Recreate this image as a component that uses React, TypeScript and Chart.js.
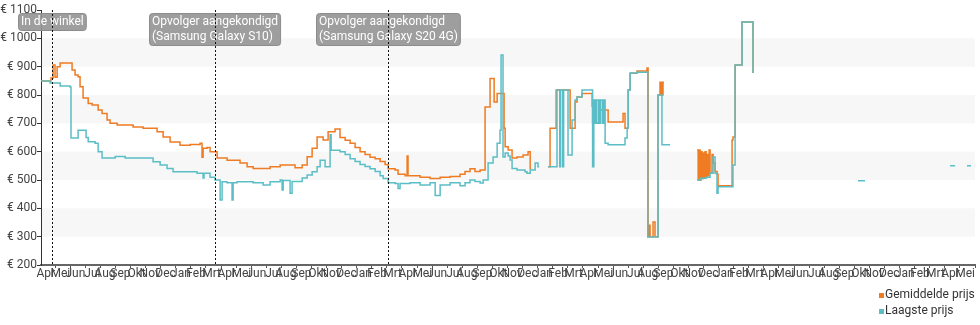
import React, { useEffect, useRef } from "react";
import { Chart, registerables } from "chart.js";

Chart.register(...registerables);

// x values are months counted from January 2018 (0 = Jan 2018, 12 = Jan 2019, ...)
const monthNames = ["Jan", "Feb", "Mrt", "Apr", "Mei", "Jun", "Jul", "Aug", "Sep", "Okt", "Nov", "Dec"];

const avgMonths = [
  2.07, 2.72, 2.86, 2.99, 3.13, 3.33, 4.12, 4.32, 4.52, 4.65, 4.85, 5.19, 5.45, 5.85, 6.11, 6.44, 6.64, 7.11, 8.17, 8.83,
  9.43, 9.76, 10.16, 10.62, 11.28, 11.95, 12.61, 12.74, 12.81, 13.07, 13.27, 13.74, 14.4, 15.26, 15.73, 16.13, 17.25, 17.92, 18.91, 19.38,
  19.71, 20.04, 20.37, 20.77, 21.1, 21.56, 21.89, 22.23, 22.56, 22.89, 23.22, 23.55, 23.88, 24.22, 24.55, 24.88, 25.08, 25.54, 25.74, 26.21,
  26.34, 26.4, 27.2, 27.86, 28.53, 29.19, 29.85, 30.18, 30.51, 30.84, 31.18, 31.51, 31.84, 32.11, 32.31, 32.77, 32.84, 33.04, 33.3, 33.63,
  34.03, 34.36, 34.5, 34.56, 35.3,
  35.69, 35.82, 36.22, 37.15, 37.48, 37.61, 37.94, 38.61, 38.64, 38.68, 38.72, 38.76, 38.8, 39.13, 39.67, 40.66, 40.79, 41.0, 41.13, 41.59,
  42.25, 42.32, 42.38, 42.45, 42.65, 42.78, 42.98, 43.11, 43.15, 43.19, 43.24, 43.31, 43.37, 44.0,
  45.57, 45.64, 45.7, 45.77, 45.84, 45.9, 45.97, 46.04, 46.1, 46.17, 46.24, 46.3, 46.37, 46.43, 46.56, 46.63, 46.76, 46.89, 46.96, 47.89,
  47.95, 48.09, 48.55, 49.28,
];
const avgPrices = [
  849, 860, 906, 863, 900, 913, 888, 871, 864, 829, 789, 770, 765, 747, 735, 712, 700, 694, 687, 683,
  683, 670, 652, 634, 623, 625, 630, 580, 612, 615, 600, 578, 570, 560, 547, 541, 547, 553, 543, 553,
  582, 612, 652, 641, 670, 680, 650, 640, 630, 615, 600, 590, 580, 575, 565, 555, 540, 535, 520, 515,
  585, 515, 510, 505, 510, 512, 520, 530, 540, 530, 535, 758, 858, 775, 805, 683, 617, 606, 578, 581,
  588, 600, 541, 541, null,
  547, 683, 818, 683, 775, 793, 805, 760, 700, 760, 700, 760, 700, 747, 705, 735, 683, 818, 877, 885,
  895, 300, 340, 300, 352, 300, 800, 845, 800, 845, 800, 845, 845, null,
  606, 500, 606, 500, 600, 505, 595, 510, 600, 510, 590, 515, 606, 524, 590, 560, 530, 520, 480, 641,
  652, 906, 1058, 878,
];

const lowMonths = [
  2.07, 2.66, 3.33, 3.99, 4.05, 4.52, 5.05, 5.19, 5.65, 5.85, 6.11, 6.98, 7.64, 9.1, 9.49, 9.96, 10.42, 10.82, 12.41, 12.81,
  12.87, 13.27, 13.6, 13.94, 14.07, 14.4, 14.73, 14.8, 15.06, 16.13, 16.79, 17.25, 17.92, 18.05, 18.12, 18.58, 18.71, 19.38, 19.71, 20.04,
  20.37, 20.57, 20.9, 21.23, 21.3, 21.89, 22.23, 22.56, 22.89, 23.22, 23.55, 23.88, 24.22, 24.55, 24.75, 25.08, 25.54, 25.74, 25.87, 26.54,
  27.2, 27.86, 28.2, 28.53, 29.19, 29.85, 30.18, 30.51, 30.84, 31.18, 31.38, 31.71, 32.04, 32.31, 32.5, 32.57, 32.7, 32.84, 33.04, 33.17,
  33.3, 33.63, 34.16, 34.29, 34.5, 34.83, 35.02, 35.1, 35.3,
  35.69, 36.28, 36.46, 36.52, 36.66, 36.72, 37.01, 37.28, 37.48, 37.61, 37.94, 38.64, 38.72, 38.82, 38.92, 39.05, 39.15, 39.28, 39.37, 39.47,
  39.67, 40.79, 40.93, 41.0, 41.13, 41.59, 42.25, 42.3, 42.98, 43.24, 43.78, 44.0,
  45.57, 45.77, 46.17, 46.43, 46.63, 46.76, 46.89, 46.96, 47.95, 48.09, 48.55, 49.28, 49.5,
  56.24, 56.71, 57.0, 62.35, 62.68, 63.0, 63.47, 63.74,
];
const lowPrices = [
  849, 842, 832, 828, 648, 676, 650, 635, 630, 600, 578, 583, 578, 578, 564, 553, 541, 529, 524, 507,
  524, 510, 500, 429, 494, 490, 429, 490, 494, 490, 482, 494, 500, 465, 498, 453, 495, 507, 518, 529,
  547, 570, 547, 660, 605, 600, 590, 575, 565, 555, 548, 540, 530, 515, 505, 490, 488, 470, 488, 490,
  482, 490, 445, 482, 490, 480, 490, 500, 495, 489, 500, 560, 581, 630, 676, 941, 581, 595, 585, 571,
  541, 535, 529, 524, 535, 560, 547, 547, null,
  547, 818, 547, 818, 547, 818, 588, 712, 782, 793, 818, 547, 782, 700, 782, 700, 782, 700, 782, 630,
  624, 648, 683, 818, 878, 880, 880, 299, 800, 624, 624, null,
  500, 506, 510, 524, 581, 524, 453, 476, 553, 906, 1058, 878, null,
  497, 497, null, 550, 550, null, 550, 550,
];

const eventMonths = [2.78, 13.6, 25.08];
const eventLabels = [
  ["In de winkel"],
  ["Opvolger aangekondigd", "(Samsung Galaxy S10)"],
  ["Opvolger aangekondigd", "(Samsung Galaxy S20 4G)"],
];

const shadedBands = [
  [300, 400],
  [500, 600],
  [700, 800],
  [900, 1000],
];

const ORANGE = "#ef7b22";
const TEAL = "#5bbec6";
const FONT = "Roboto, 'Noto Sans', sans-serif";

const bandsPlugin = {
  id: "bands",
  beforeDraw(chart: any) {
    const { ctx, chartArea, scales } = chart;
    const y = scales.y;
    ctx.save();
    ctx.fillStyle = "#f7f7f7";
    for (const [lo, hi] of shadedBands) {
      const y1 = y.getPixelForValue(hi);
      const y2 = y.getPixelForValue(lo);
      ctx.fillRect(chartArea.left, y1, chartArea.right - chartArea.left, y2 - y1);
    }
    ctx.restore();
  },
};

function roundRect(ctx: CanvasRenderingContext2D, x: number, y: number, w: number, h: number, r: number) {
  ctx.beginPath();
  ctx.moveTo(x + r, y);
  ctx.lineTo(x + w - r, y);
  ctx.quadraticCurveTo(x + w, y, x + w, y + r);
  ctx.lineTo(x + w, y + h - r);
  ctx.quadraticCurveTo(x + w, y + h, x + w - r, y + h);
  ctx.lineTo(x + r, y + h);
  ctx.quadraticCurveTo(x, y + h, x, y + h - r);
  ctx.lineTo(x, y + r);
  ctx.quadraticCurveTo(x, y, x + r, y);
  ctx.closePath();
}

const eventsPlugin = {
  id: "events",
  afterDraw(chart: any) {
    const { ctx, chartArea, scales } = chart;
    const xs = scales.x;
    ctx.save();
    ctx.font = `12px ${FONT}`;
    eventMonths.forEach((m, i) => {
      const x = xs.getPixelForValue(m);
      const lines = eventLabels[i];
      const w = Math.max(...lines.map((l) => ctx.measureText(l).width)) + 5;
      const h = lines.length * 15 + 2;
      const bx = Math.round(x - w / 2) + 0.5;
      const by = 13.5;
      roundRect(ctx, bx, by, w, h, 3);
      ctx.fillStyle = "rgba(150,150,150,0.92)";
      ctx.fill();
      ctx.strokeStyle = "#8c8c8c";
      ctx.lineWidth = 1;
      ctx.stroke();
      ctx.fillStyle = "#ffffff";
      ctx.textBaseline = "middle";
      ctx.textAlign = "left";
      lines.forEach((l, j) => ctx.fillText(l, bx + 2.5, by + 8 + j * 15));
      const lx = Math.round(x) + 0.5;
      ctx.beginPath();
      ctx.setLineDash([2, 2]);
      ctx.strokeStyle = "#111";
      ctx.moveTo(lx, chartArea.top);
      ctx.lineTo(lx, chartArea.bottom);
      ctx.stroke();
      ctx.setLineDash([]);
    });
    ctx.restore();
  },
};

function toPoints(xs: number[], ys: (number | null)[]) {
  return xs.map((x, i) => ({ x, y: ys[i] }));
}

export default function App() {
  const ref = useRef<HTMLCanvasElement | null>(null);

  useEffect(() => {
    if (!ref.current) return;
    const chart = new Chart(ref.current, {
      type: "line",
      data: {
        datasets: [
          {
            label: "Gemiddelde prijs",
            data: toPoints(avgMonths, avgPrices) as any,
            borderColor: ORANGE,
            backgroundColor: ORANGE,
            borderWidth: 1.5,
            pointRadius: 0,
            stepped: true,
            spanGaps: false,
            order: 1,
          },
          {
            label: "Laagste prijs",
            data: toPoints(lowMonths, lowPrices) as any,
            borderColor: TEAL,
            backgroundColor: TEAL,
            borderWidth: 1.5,
            pointRadius: 0,
            stepped: true,
            spanGaps: false,
            order: 0,
          },
        ],
      },
      options: {
        responsive: false,
        animation: false,
        events: [],
        layout: { padding: { top: 10, right: 5, left: 0, bottom: 0 } },
        plugins: { legend: { display: false }, tooltip: { enabled: false } },
        scales: {
          x: {
            type: "linear",
            min: 2.06,
            max: 64,
            afterBuildTicks: (s: any) => {
              const t = [];
              for (let k = Math.ceil(s.min); k <= Math.floor(s.max); k++) t.push({ value: k });
              s.ticks = t;
            },
            afterFit: (s: any) => {
              s.height = 60;
            },
            ticks: {
              autoSkip: false,
              maxRotation: 0,
              minRotation: 0,
              align: "end",
              padding: -1,
              color: "#444",
              font: { family: FONT, size: 12 },
              callback: (v: any) => monthNames[((Math.round(v) % 12) + 12) % 12],
            },
            grid: { drawOnChartArea: false, drawTicks: true, tickLength: 3, color: "#555" },
            border: { display: true, color: "#666", width: 2 },
          },
          y: {
            min: 200,
            max: 1100,
            afterFit: (s: any) => {
              s.width = 41;
            },
            ticks: {
              stepSize: 100,
              padding: 0,
              color: "#444",
              font: { family: FONT, size: 12 },
              callback: (v: any) => "€ " + v,
            },
            grid: { drawOnChartArea: false, drawTicks: true, tickLength: 4, color: "#333" },
            border: { display: true, color: "#333", width: 1 },
          },
        },
      },
      plugins: [bandsPlugin, eventsPlugin],
    });
    return () => chart.destroy();
  }, []);

  const legendItems = [
    { label: "Gemiddelde prijs", color: ORANGE },
    { label: "Laagste prijs", color: TEAL },
  ];

  return (
    <div style={{ position: "fixed", left: 0, top: 0, width: 980, height: 325, background: "#fff" }}>
      <canvas ref={ref} width={980} height={325} style={{ display: "block", width: 980, height: 325 }} />
      <div
        style={{
          position: "absolute",
          left: 879,
          top: 287,
          font: `12px ${FONT}`,
          color: "#333",
          lineHeight: "15px",
          whiteSpace: "nowrap",
        }}
      >
        {legendItems.map((it) => (
          <div key={it.label} style={{ position: "relative", height: 16, paddingLeft: 6 }}>
            <span
              style={{
                position: "absolute",
                left: 0,
                top: 6,
                width: 5,
                height: 5,
                background: it.color,
              }}
            />
            {it.label}
          </div>
        ))}
      </div>
    </div>
  );
}
